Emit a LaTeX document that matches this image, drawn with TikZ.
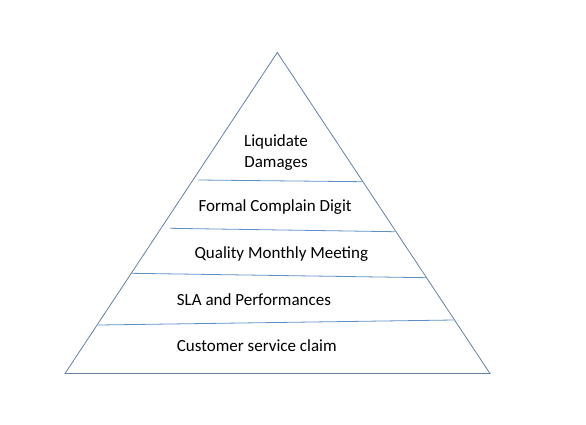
\documentclass[tikz,border=0pt]{standalone}
\usepackage{fontspec}
\setmainfont{Carlito}
\definecolor{edgeblue}{RGB}{100,128,165}
\definecolor{tierblue}{RGB}{95,145,200}
\tikzset{
  tier/.style={draw=tierblue, line width=0.8pt},
  label/.style={inner sep=0pt, font=\fontsize{17}{20}\selectfont}
}
\begin{document}
\begin{tikzpicture}[x=1pt,y=-1pt]
        \useasboundingbox (0,0) rectangle (586,424);
        \coordinate (top) at (277.3,52.5);
        \coordinate (bl) at (65,373.5);
        \coordinate (br) at (490,373.5);
        \draw[edgeblue, line width=0.8pt] (top) -- (br) -- (bl) -- cycle;

        % tier lines
        \coordinate (1l) at (198.3,180);   \coordinate (1r) at (362.3,181.7);
        \coordinate (2l) at (170,228.3);   \coordinate (2r) at (395,231.7);
        \coordinate (3l) at (131.7,273.3); \coordinate (3r) at (426.7,277.7);
        \coordinate (4l) at (98.3,325);    \coordinate (4r) at (453.3,320);
        \draw[tier] (1l) -- (1r);
        \draw[tier] (2l) -- (2r);
        \draw[tier] (3l) -- (3r);
        \draw[tier] (4l) -- (4r);

        \node[label, anchor=base] (ld1) at (276,146) {Liquidate};
        \node[label, anchor=base] (ld2) at (276,167.3) {Damages};
        \node[label, anchor=base west] (fcd) at (198.3,211.7) {Formal Complain Digit};
        \node[label, anchor=base west] (qmm) at (194.3,258) {Quality Monthly Meeting};
        \node[label, anchor=base west] (sla) at (176.7,305.7) {SLA and Performances};
        \node[label, anchor=base west] (csc) at (176.7,351.7) {Customer service claim};
      \end{tikzpicture}
\end{document}
